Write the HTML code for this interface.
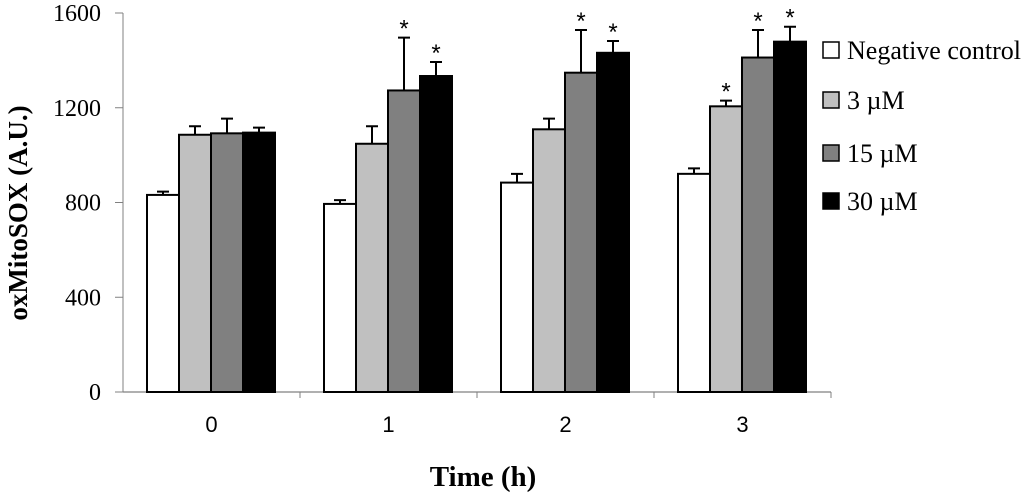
<!DOCTYPE html>
<html><head><meta charset="utf-8"><style>
body{margin:0;background:#fff;}
svg{display:block;}
.tk{font-family:"Liberation Serif",serif;font-size:24px;fill:#000;}
.xl{font-family:"Liberation Sans",sans-serif;font-size:22px;fill:#000;}
.lg{font-family:"Liberation Serif",serif;font-size:26px;fill:#000;}
.st{font-family:"Liberation Sans",sans-serif;font-size:24px;fill:#000;}
</style></head><body>
<svg id="chart" width="1024" height="500" viewBox="0 0 1024 500" xmlns="http://www.w3.org/2000/svg"></svg>
<script>
const categories = ["0","1","2","3"];
const seriesNames = ["Negative control","3 \u00b5M","15 \u00b5M","30 \u00b5M"];
const negControl = [832, 794, 884, 921];
const conc3 = [1086, 1048, 1109, 1206];
const conc15 = [1092, 1273, 1348, 1412];
const conc30 = [1095, 1334, 1432, 1479];
const errNeg = [14, 16, 37, 23];
const err3 = [36, 74, 45, 24];
const err15 = [62, 223, 180, 116];
const err30 = [21, 59, 50, 63];
const sigNeg = [false,false,false,false];
const sig3 = [false,false,false,true];
const sig15 = [false,true,true,true];
const sig30 = [false,true,true,true];
const yTicks = [0, 400, 800, 1200, 1600];

const values=[negControl,conc3,conc15,conc30], errs=[errNeg,err3,err15,err30], sigs=[sigNeg,sig3,sig15,sig30];
const fills=["#ffffff","#c0c0c0","#808080","#000000"];
const NS="http://www.w3.org/2000/svg", svg=document.getElementById('chart');
const X0=123, CW=177, Y0=392, YT=13, YMAX=1600, BW=32, GAP=24;
const y=v=>Y0-(v/YMAX)*(Y0-YT);
const bx=(c,s)=>X0+c*CW+GAP+s*BW;
function mk(tag,attrs,txt){const e=document.createElementNS(NS,tag);for(const k in attrs)e.setAttribute(k,attrs[k]);if(txt!=null)e.textContent=txt;svg.appendChild(e);return e;}

let e=mk('line',{x1:X0,y1:YT,x2:X0,y2:Y0,stroke:'#808080','stroke-width':1});


yTicks.forEach(t=>{
  let l=mk('line',{x1:X0-8,y1:y(t),x2:X0,y2:y(t),stroke:'#808080','stroke-width':1});
  
  
  let tx=mk('text',{x:101,y:y(t)+8,'text-anchor':'end',class:'tk'},String(t));
  
  
});
e=mk('line',{x1:X0,y1:Y0,x2:X0+CW*categories.length,y2:Y0,stroke:'#808080','stroke-width':1.2});


categories.forEach((c,i)=>{
  let l=mk('line',{x1:X0+CW*(i+1),y1:Y0,x2:X0+CW*(i+1),y2:Y0+6,stroke:'#808080','stroke-width':1});
  
  
  let tx=mk('text',{x:X0+CW*i+CW/2,y:432,'text-anchor':'middle',class:'xl'},c);
  
  
});
values.forEach((arr,s)=>{
  arr.forEach((v,c)=>{
    const x=bx(c,s), top=y(v), cx=x+BW/2, et=y(v+errs[s][c]);
    let r=mk('rect',{x:x,y:top,width:BW,height:Y0-top,fill:fills[s],stroke:'#000','stroke-width':2});
    
    
    let g=mk('path',{d:`M${cx},${top}V${et}M${cx-6},${et}H${cx+6}`,stroke:'#000','stroke-width':2,fill:'none'});
    
    
    if(sigs[s][c]){
      let st=mk('text',{x:cx,y:et-1,'text-anchor':'middle',class:'st'},'*');
      
      
    }
  });
});
const ly=[50,100,153,201];
seriesNames.forEach((n,i)=>{
  let r=mk('rect',{x:823,y:ly[i]-8,width:16,height:16,fill:fills[i],stroke:'#000','stroke-width':1.5});
  
  
  let t=mk('text',{x:847,y:ly[i]+9,class:'lg'},n);
  
  
});
let yt=mk('text',{x:0,y:0,transform:'translate(27,213) rotate(-90)','text-anchor':'middle',style:'font-family:"Liberation Serif",serif;font-size:27px;font-weight:bold'},'oxMitoSOX (A.U.)');


let xt=mk('text',{x:483,y:486,'text-anchor':'middle',style:'font-family:"Liberation Serif",serif;font-size:29px;font-weight:bold'},'Time (h)');


</script>
</body></html>
